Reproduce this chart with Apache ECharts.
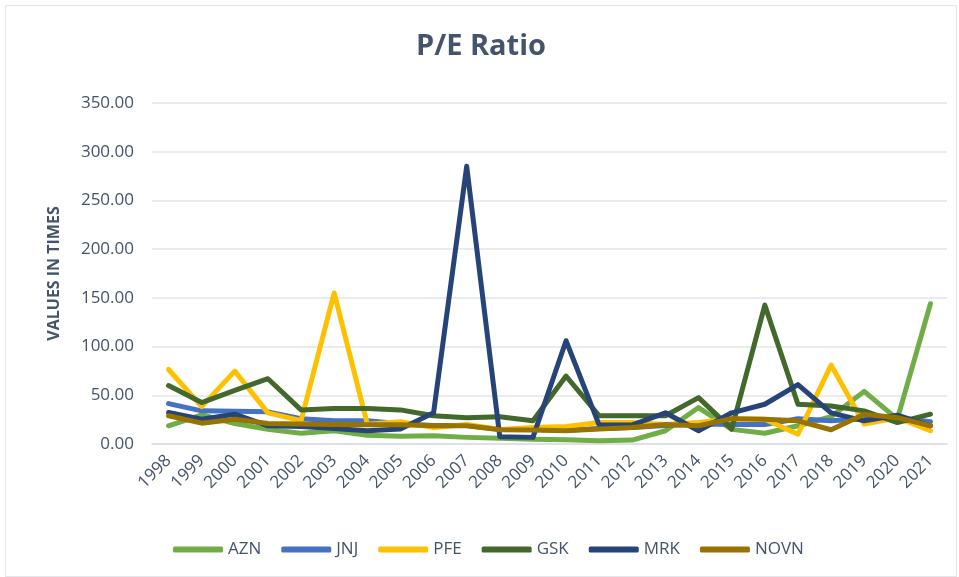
<!DOCTYPE html>
<html>
<head>
<meta charset="utf-8">
<script src="https://cdn.jsdelivr.net/npm/echarts@6/dist/echarts.min.js"></script>
<style>
html, body { margin: 0; padding: 0; background: #fff; }
#chart {
    position: absolute;
    left: 5px; top: 5px;
    width: 952px; height: 572px;
    border: 1px solid #e3e6ea;
    box-sizing: border-box;
}
</style>
</head>
<body>
<div id="chart"></div>
<script>
// years on the x axis
const years = ["1998", "1999", "2000", "2001", "2002", "2003", "2004", "2005", "2006", "2007", "2008", "2009",
    "2010", "2011", "2012", "2013", "2014", "2015", "2016", "2017", "2018", "2019", "2020", "2021"];

// P/E values
const azn = [18.7, 30, 21, 15, 11, 13.6, 9, 8, 8.5, 6.8, 5.8, 5, 4.4, 3.4, 4, 13.6, 37.4, 15, 11, 18.7, 28, 54, 25.5, 144];
const jnj = [41.5, 34, 33.6, 33, 26, 23.8, 23.8, 20.7, 19, 19, 15, 15, 14, 16, 17, 19, 20.4, 20, 20, 26, 23.8, 26, 27, 22.8];
const pfe = [76.5, 38.4, 74.8, 32, 24, 155, 20.4, 22.8, 17, 20, 15, 17, 18, 22, 22, 20, 22, 26, 25.5, 10, 81, 20.4, 27, 13.6];
const gsk = [60, 42.5, 55, 67, 35, 36.4, 36.4, 35, 29, 27, 28, 23.8, 69.7, 29, 29, 29, 47.6, 15.3, 142.5, 40.8, 39, 34, 22, 30.6];
const mrk = [32.3, 25.5, 30.6, 18.7, 18, 16, 13.6, 15.3, 32, 285, 7.5, 6.8, 106, 19.4, 19.7, 32, 13.6, 32, 40.8, 61, 32, 23.8, 29.6, 18.7];
const novn = [29, 21.4, 25.5, 21, 20.4, 20, 19.7, 19.7, 18.7, 18.7, 14.6, 14.3, 13.6, 15.3, 17, 20, 18.7, 26, 25.5, 23.8, 14.6, 30.6, 27, 18.7];

const seriesNames = ["AZN", "JNJ", "PFE", "GSK", "MRK", "NOVN"];
const seriesData = [azn, jnj, pfe, gsk, mrk, novn];
const colors = ["#70ad47", "#4472c4", "#ffc000", "#43682b", "#264478", "#997300"];

const textColor = "#44546a";
const font = "Open Sans";

const chart = echarts.init(document.getElementById("chart"));

const option = {
    color: colors,
    textStyle: { fontFamily: font },
    title: {
        text: "P/E Ratio",
        left: "center",
        top: 21,
        textStyle: {
            color: textColor,
            fontSize: 29,
            fontWeight: "bold",
            fontFamily: font,
        },
    },
    grid: {
        left: 146,
        top: 97,
        right: 9,
        bottom: 132,
    },
    legend: {
        data: seriesNames.map(n => ({ name: n, icon: "roundRect" })),
        left: 162,
        top: 530,
        itemWidth: 50,
        itemHeight: 6,
        itemGap: 20,
        textStyle: {
            color: textColor,
            fontSize: 17,
            fontFamily: font,
        },
    },
    xAxis: {
        type: "category",
        data: years,
        axisLine: { lineStyle: { color: "#d9dde3", width: 1.5 } },
        axisTick: { length: 6, lineStyle: { color: "#d9dde3", width: 1.5 } },
        axisLabel: {
            color: textColor,
            fontSize: 17,
            rotate: 45,
            margin: 14,
            interval: 0,
        },
    },
    yAxis: {
        type: "value",
        min: 0,
        max: 350,
        interval: 50,
        name: "VALUES IN TIMES",
        nameLocation: "middle",
        nameGap: 90,
        nameTextStyle: {
            color: textColor,
            fontSize: 16,
            fontWeight: "bold",
            fontFamily: font,
        },
        axisLine: { show: false },
        axisTick: { show: false },
        axisLabel: {
            color: textColor,
            fontSize: 17,
            margin: 18,
            formatter: v => v.toFixed(2),
        },
        splitLine: { lineStyle: { color: "#e1e4ea", width: 1.5 } },
    },
    series: seriesNames.map((name, i) => ({
        name: name,
        type: "line",
        data: seriesData[i],
        showSymbol: false,
        symbol: "none",
        animation: false,
        lineStyle: {
            width: 5,
            color: colors[i],
            cap: "round",
            join: "round",
        },
    })),
};

chart.setOption(option);
</script>
</body>
</html>
